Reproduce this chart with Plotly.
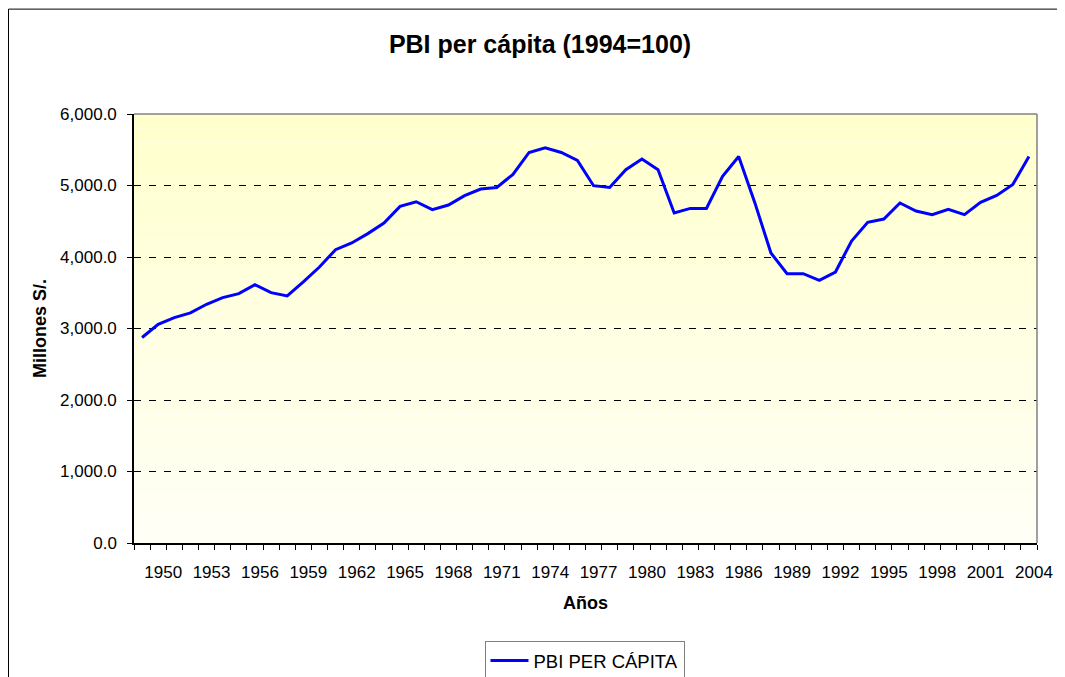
import plotly.graph_objects as go

years = list(range(1949, 2005))
pbi_per_capita = [
    2874, 3059, 3153, 3218, 3339, 3432, 3488, 3614, 3502, 3455,
    3651, 3860, 4103, 4196, 4327, 4475, 4708, 4773, 4662, 4727,
    4857, 4950, 4973, 5155, 5462, 5528, 5462, 5351, 4997, 4973,
    5220, 5370, 5220, 4615, 4680, 4680, 5127, 5406, 4760, 4056,
    3767, 3767, 3674, 3790, 4224, 4485, 4531, 4755, 4643, 4592,
    4666, 4592, 4764, 4862, 5015, 5406,
]
tick_years = list(range(1950, 2005, 3))
y_ticks = [0, 1000, 2000, 3000, 4000, 5000, 6000]

FONT = "Liberation Sans, Arial, sans-serif"

# plot area in figure pixel coords (page is offset by 8px body margin)
L, R, T, B = 126, 1029, 105.5, 535
PW, PH = R - L, B - T

fig = go.Figure()
fig.add_trace(go.Scatter(
    x=years, y=pbi_per_capita, mode="lines", name="PBI PER CÁPITA",
    line=dict(color="#0000FF", width=3),
))

shapes = []
n = 60
top = (255, 255, 204)
bot = (255, 255, 246)
for i in range(n):
    t = i / (n - 1)
    r = round(top[0] + (bot[0] - top[0]) * t)
    g = round(top[1] + (bot[1] - top[1]) * t)
    b = round(top[2] + (bot[2] - top[2]) * t)
    shapes.append(dict(
        type="rect", xref="x domain", yref="y domain",
        x0=0, x1=1, y0=1 - (i + 1) / n, y1=1 - i / n,
        fillcolor=f"rgb({r},{g},{b})", line=dict(width=0), layer="below",
    ))
shapes.append(dict(type="line", xref="x domain", yref="y domain", x0=0, x1=1, y0=1, y1=1,
                   line=dict(color="#808080", width=1.5), layer="above"))
shapes.append(dict(type="line", xref="x domain", yref="y domain", x0=1, x1=1, y0=0, y1=1,
                   line=dict(color="#808080", width=1.5), layer="above"))
shapes.append(dict(type="rect", xref="paper", yref="paper",
                   x0=(0.5 - L) / PW, x1=(1080 - L) / PW,
                   y0=(B - 700) / PH, y1=(B - 0.5) / PH,
                   line=dict(color="black", width=1), layer="above"))

fig.update_layout(
    width=1065, height=677,
    margin=dict(l=L, r=1065 - R, t=T, b=677 - B, autoexpand=False),
    paper_bgcolor="white",
    plot_bgcolor="white",
    font=dict(family=FONT, size=17, color="black"),
    title=dict(text="<b>PBI per cápita (1994=100)</b>", x=(540 - 8) / 1065, xanchor="center",
               y=1 - 36 / 677, yanchor="middle", yref="container",
               font=dict(size=25, family=FONT)),
    showlegend=True,
    legend=dict(orientation="h", x=(584.5 - 134) / PW, xanchor="center", y=(B - 633) / PH, yanchor="top",
                bordercolor="#808080", borderwidth=1, bgcolor="white", itemwidth=38,
                font=dict(size=18.5, family=FONT)),
    shapes=shapes,
)

fig.update_xaxes(
    range=[1948.5, 2004.5],
    tickmode="array", tickvals=tick_years, ticktext=[str(y) for y in tick_years],
    ticks="", showgrid=False, zeroline=False,
    showline=True, linecolor="black", linewidth=1.5,
    ticklabelstandoff=13, ticklabelshift=5,
    minor=dict(tick0=1948.5, dtick=1, ticks="outside", ticklen=5, tickcolor="black", showgrid=False),
    title=dict(text="<b>Años</b>", font=dict(size=18, family=FONT), standoff=15),
)

fig.update_yaxes(
    range=[0, 6000], tickmode="array", tickvals=y_ticks,
    tickformat=",.1f",
    ticks="outside", ticklen=5, tickcolor="black",
    showgrid=True, gridcolor="black", gridwidth=1, griddash="7px,8px",
    zeroline=False, showline=True, linecolor="black", linewidth=1.5,
    ticklabelstandoff=7,
    title=dict(text="<b>Millones S/.</b>", font=dict(size=18, family=FONT), standoff=9),
)

fig.write_html("out.html")
